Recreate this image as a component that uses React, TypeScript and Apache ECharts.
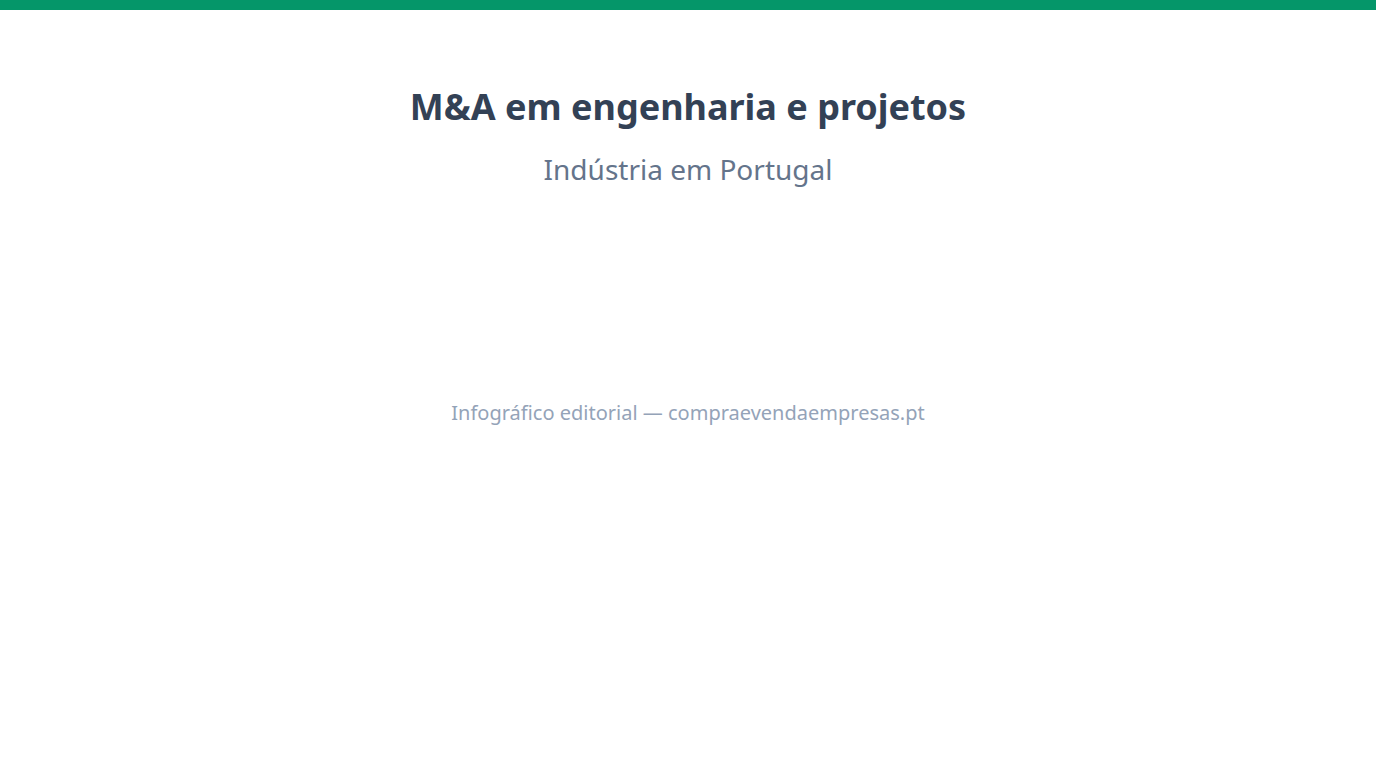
import React, { useEffect, useRef } from 'react';
import * as echarts from 'echarts';

const TITLE = 'M&A em engenharia e projetos';
const SUBTITLE = 'Indústria em Portugal';
const FOOTER = 'Infográfico editorial — compraevendaempresas.pt';

const FONT = '"Noto Sans", "Open Sans", sans-serif';

const App: React.FC = () => {
  const chartRef = useRef<HTMLDivElement>(null);

  useEffect(() => {
    if (!chartRef.current) return;
    const chart = echarts.init(chartRef.current, undefined, { renderer: 'svg' });

    chart.setOption({
      animation: false,
      backgroundColor: '#ffffff',
      textStyle: { fontFamily: FONT },
      title: {
        text: TITLE,
        subtext: SUBTITLE,
        left: 'center',
        top: 83,
        itemGap: 31,
        textStyle: {
          fontFamily: FONT,
          fontSize: 36,
          fontWeight: 'bold',
          color: '#334155',
        },
        subtextStyle: {
          fontFamily: FONT,
          fontSize: 28,
          color: '#64748b',
        },
      },
      graphic: [
        {
          type: 'rect',
          left: 0,
          top: 0,
          shape: { width: 1376, height: 10 },
          style: { fill: '#059669' },
          silent: true,
        },
        {
          type: 'text',
          left: 'center',
          top: 402,
          style: {
            text: FOOTER,
            fontFamily: FONT,
            fontSize: 20,
            fill: '#94a3b8',
          },
          silent: true,
        },
      ],
      series: [],
    });

    const onResize = () => chart.resize();
    window.addEventListener('resize', onResize);
    return () => {
      window.removeEventListener('resize', onResize);
      chart.dispose();
    };
  }, []);

  return (
    <div
      ref={chartRef}
      style={{ position: 'fixed', left: 0, top: 0, width: '100vw', height: '100vh' }}
    />
  );
};

export default App;
